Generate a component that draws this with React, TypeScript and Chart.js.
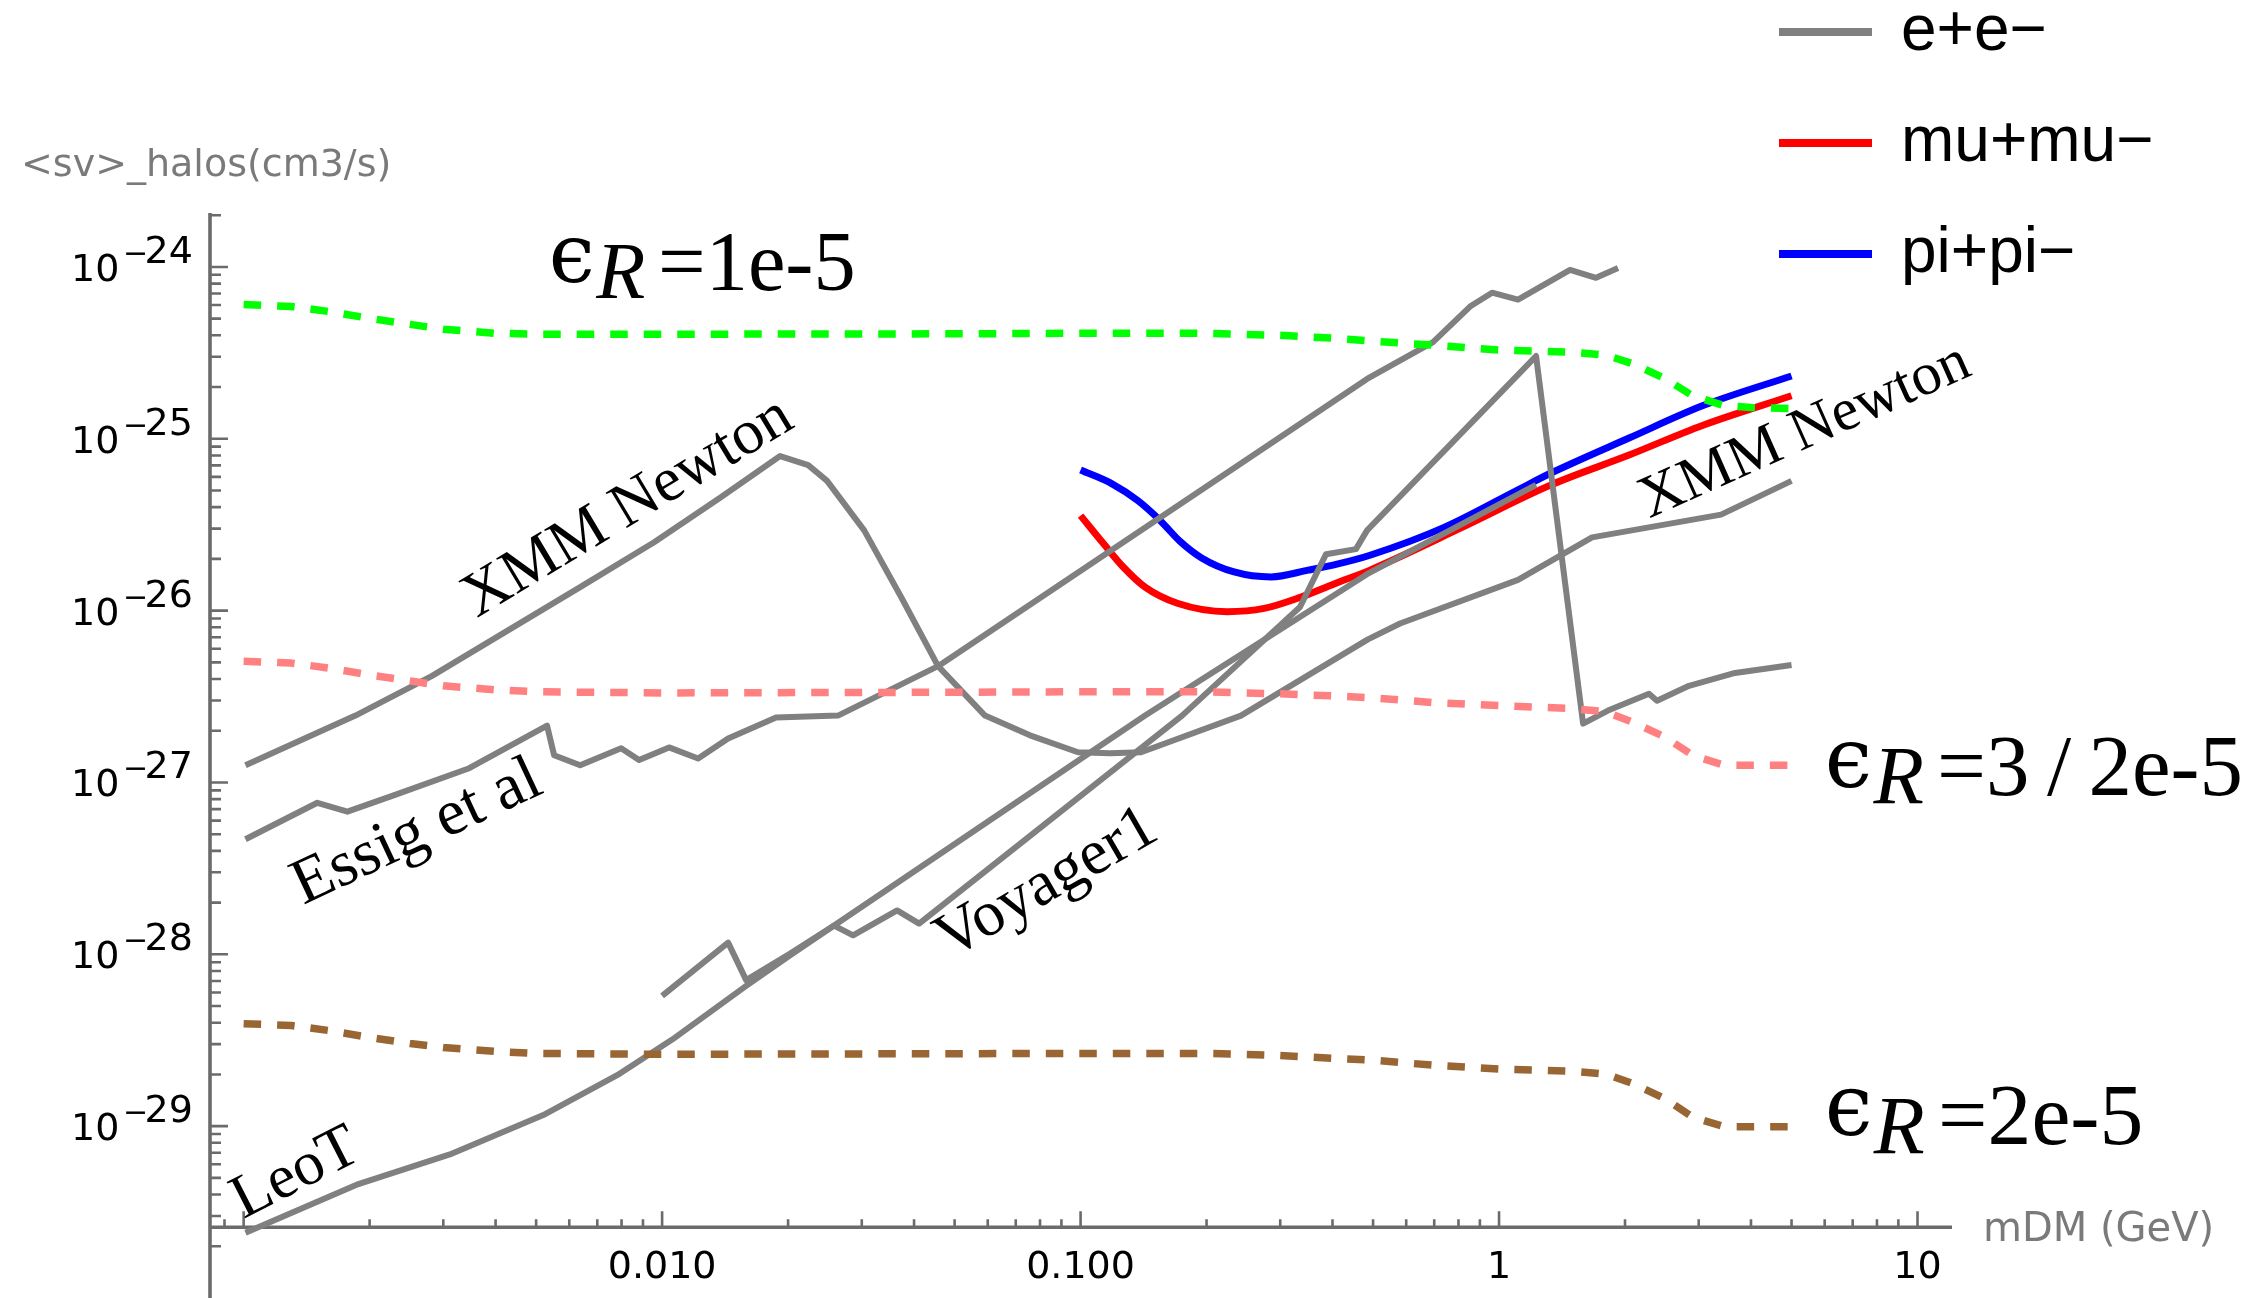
import React, { useEffect, useRef } from "react";
import { Chart, registerables } from "chart.js";

Chart.register(...registerables);

// ---------------- axis ranges / ticks ----------------
const X_MIN = 8.31e-4;
const X_MAX = 12.09;
const Y_MIN = 1.14e-30;
const Y_MAX = 2.06e-24;
const X_AXIS_AT = 2.58e-30; // y value where the horizontal axis crosses

const X_TICK_VALUES = [0.01, 0.1, 1, 10];
const X_TICK_LABELS = ["0.010", "0.100", "1", "10"];
const Y_TICK_EXPONENTS = [-24, -25, -26, -27, -28, -29];

// ---------------- dashed benchmark curves (epsilon_R) ----------------
const epsX = [0.001, 0.0013, 0.0016, 0.002, 0.0025, 0.003, 0.004, 0.005, 0.01, 0.05, 0.1, 0.2, 0.3, 0.4, 0.5, 0.7, 1, 1.5, 1.8, 2.1, 2.5, 2.9, 3.45, 4, 5];
const eps1Y = [6.04e-25, 5.88e-25, 5.5e-25, 5.02e-25, 4.63e-25, 4.34e-25, 4.11e-25, 4.06e-25, 4.06e-25, 4.08e-25, 4.11e-25, 4.11e-25, 4.0e-25, 3.85e-25, 3.7e-25, 3.5e-25, 3.28e-25, 3.19e-25, 3.07e-25, 2.72e-25, 2.23e-25, 1.78e-25, 1.56e-25, 1.52e-25, 1.5e-25];
const eps32Y = [5.08e-27, 4.95e-27, 4.63e-27, 4.22e-27, 3.9e-27, 3.65e-27, 3.46e-27, 3.37e-27, 3.32e-27, 3.35e-27, 3.37e-27, 3.37e-27, 3.28e-27, 3.19e-27, 3.11e-27, 2.91e-27, 2.8e-27, 2.69e-27, 2.58e-27, 2.23e-27, 1.83e-27, 1.44e-27, 1.26e-27, 1.26e-27, 1.26e-27];
const eps2Y = [3.95e-29, 3.85e-29, 3.6e-29, 3.28e-29, 3.03e-29, 2.87e-29, 2.72e-29, 2.65e-29, 2.62e-29, 2.64e-29, 2.65e-29, 2.65e-29, 2.58e-29, 2.48e-29, 2.42e-29, 2.26e-29, 2.15e-29, 2.09e-29, 2.01e-29, 1.76e-29, 1.44e-29, 1.13e-29, 9.93e-30, 9.93e-30, 9.93e-30];

// ---------------- e+e- limits (gray) ----------------
const xmmX = [0.00101, 0.00185, 0.00282, 0.00637, 0.00957, 0.01376, 0.01914, 0.02234, 0.02479, 0.0304, 0.03725, 0.04565, 0.0591, 0.0757, 0.0986, 0.1176, 0.1395, 0.2417, 0.486, 0.58, 1.11, 1.668, 3.393, 5.0];
const xmmY = [1.26e-27, 2.45e-27, 4.17e-27, 1.37e-26, 2.5e-26, 4.54e-26, 7.93e-26, 7.03e-26, 5.69e-26, 2.93e-26, 1.2e-26, 4.75e-27, 2.45e-27, 1.88e-27, 1.5e-27, 1.48e-27, 1.5e-27, 2.45e-27, 6.8e-27, 8.41e-27, 1.51e-26, 2.67e-26, 3.62e-26, 5.69e-26];

const essigX = [0.00101, 0.0015, 0.00177, 0.0023, 0.00346, 0.00531, 0.00552, 0.00637, 0.00798, 0.00881, 0.01039, 0.01219, 0.01438, 0.01872, 0.02633, 0.04565, 0.4837, 0.6954, 0.8524, 0.9623, 1.11, 1.478, 1.705, 1.925];
const essigY = [4.67e-28, 7.62e-28, 6.76e-28, 8.47e-28, 1.21e-27, 2.14e-27, 1.44e-27, 1.26e-27, 1.58e-27, 1.35e-27, 1.6e-27, 1.38e-27, 1.8e-27, 2.39e-27, 2.45e-27, 4.75e-27, 2.23e-25, 3.65e-25, 5.88e-25, 7.08e-25, 6.46e-25, 9.61e-25, 8.65e-25, 9.87e-25];

const voyX = [0.01, 0.01438, 0.01588, 0.02023, 0.02576, 0.0286, 0.03644, 0.04113, 0.1748, 0.3345, 0.386, 0.455, 0.4837, 1.226, 1.588, 1.821, 2.282, 2.385, 2.844, 3.664, 5.0];
const voyY = [5.73e-29, 1.17e-28, 7.08e-29, 1.01e-28, 1.47e-28, 1.29e-28, 1.8e-28, 1.51e-28, 2.45e-27, 1.05e-26, 2.13e-26, 2.28e-26, 2.93e-26, 3.03e-25, 2.2e-27, 2.62e-27, 3.28e-27, 2.99e-27, 3.65e-27, 4.34e-27, 4.82e-27];

const leoX = [0.00101, 0.00188, 0.00311, 0.0052, 0.00781, 0.01057, 0.01588, 0.02023, 0.02576, 0.1031, 0.1426, 0.4837, 1.226];
const leoY = [2.4e-30, 4.6e-30, 6.85e-30, 1.16e-29, 1.98e-29, 3.19e-29, 6.55e-29, 9.86e-29, 1.47e-28, 1.44e-27, 2.45e-27, 1.63e-26, 5.39e-26];

// ---------------- mu+mu- and pi+pi- ----------------
const muX = [0.1, 0.1138, 0.1263, 0.1426, 0.171, 0.224, 0.2745, 0.3364, 0.4034, 0.4916, 0.816, 1.331, 2.045, 3.073, 5.0];
const muY = [3.57e-26, 2.43e-26, 1.8e-26, 1.37e-26, 1.1e-26, 9.86e-27, 1.03e-26, 1.2e-26, 1.43e-26, 1.72e-26, 3.05e-26, 5.39e-26, 8.04e-26, 1.2e-25, 1.78e-25];

const piX = [0.1, 0.1189, 0.1372, 0.1549, 0.1729, 0.1951, 0.2327, 0.2852, 0.3497, 0.4123, 0.4916, 0.739, 1.11, 1.331, 2.045, 3.073, 5.0];
const piY = [6.58e-26, 5.47e-26, 4.36e-26, 3.35e-26, 2.53e-26, 2.02e-26, 1.68e-26, 1.57e-26, 1.72e-26, 1.87e-26, 2.1e-26, 3.05e-26, 5.05e-26, 6.32e-26, 1.01e-25, 1.56e-25, 2.32e-25];

const LEGEND_LABELS = ["e+e\u2212", "mu+mu\u2212", "pi+pi\u2212"];

// ---------------- styles ----------------
const GRAY = "#808080";
const RED = "#ff0000";
const BLUE = "#0000ff";
const GREEN = "#00ff00";
const PINK = "#ff8080";
const BROWN = "#996633";
const AXIS_COLOR = "#6b6b6b";
const TITLE_COLOR = "#7a7a7a";
const LEGEND_COLORS = [GRAY, RED, BLUE];

const ANNOTATIONS = [
  { text: "XMM Newton", x: 628, y: 508, angle: 31, size: 63 },
  { text: "Essig et al", x: 417, y: 833, angle: 25, size: 65 },
  { text: "Voyager1", x: 1047, y: 884, angle: 30, size: 64 },
  { text: "LeoT", x: 296, y: 1174, angle: 27, size: 62 },
  { text: "XMM Newton", x: 1805, y: 432, angle: 24, size: 60 },
];

const EPS_LABELS = [
  { rest: "=1e-5", x: 554, base: 290, k: 1.03 },
  { rest: "=3\u2009/\u20092e-5", x: 1830, base: 795, k: 1.06 },
  { rest: "=2e-5", x: 1830, base: 1144, k: 1.07 },
];

const pts = (xs: number[], ys: number[]) => xs.map((x, i) => ({ x, y: ys[i] }));

function logTicks(min: number, max: number) {
  const out: { v: number; major: boolean }[] = [];
  for (let e = Math.floor(Math.log10(min)); e <= Math.ceil(Math.log10(max)); e++) {
    for (let m = 1; m <= 9; m++) {
      const v = m * Math.pow(10, e);
      if (v >= min * 0.9999 && v <= max * 1.0001) out.push({ v, major: m === 1 });
    }
  }
  return out;
}

const framePlugin = {
  id: "mmaFrame",
  beforeDatasetsDraw(chart: any) {
    const { ctx, chartArea: a } = chart;
    const xs = chart.scales.x;
    const ys = chart.scales.y;
    const ax = xs.getPixelForValue(X_MIN);
    const ay = ys.getPixelForValue(X_AXIS_AT);
    ctx.save();
    ctx.strokeStyle = AXIS_COLOR;
    ctx.lineCap = "butt";
    ctx.lineWidth = 3.6;
    ctx.beginPath();
    ctx.moveTo(ax, a.top);
    ctx.lineTo(ax, a.bottom);
    ctx.moveTo(ax, ay);
    ctx.lineTo(a.right, ay);
    ctx.stroke();

    ctx.lineWidth = 2.6;
    ctx.beginPath();
    for (const t of logTicks(Y_MIN, Y_MAX)) {
      const py = ys.getPixelForValue(t.v);
      ctx.moveTo(ax, py);
      ctx.lineTo(ax + (t.major ? 18 : 11), py);
    }
    for (const t of logTicks(X_MIN, X_MAX)) {
      const px = xs.getPixelForValue(t.v);
      ctx.moveTo(px, ay);
      ctx.lineTo(px, ay - (t.major ? 16 : 8));
    }
    ctx.stroke();

    // tick labels
    ctx.fillStyle = "#000";
    ctx.textBaseline = "alphabetic";
    ctx.font = '38px "DejaVu Sans"';
    ctx.textAlign = "center";
    X_TICK_VALUES.forEach((v, i) => {
      ctx.fillText(X_TICK_LABELS[i], xs.getPixelForValue(v), ay + 51);
    });
    ctx.textAlign = "left";
    Y_TICK_EXPONENTS.forEach((e) => {
      const py = ys.getPixelForValue(Math.pow(10, e));
      ctx.font = '38px "DejaVu Sans"';
      ctx.fillText("10", ax - 139, py + 14);
      ctx.font = '30px "DejaVu Sans"';
      ctx.fillText("\u2212", ax - 87, py - 4);
      ctx.font = '38px "DejaVu Sans"';
      ctx.fillText(String(Math.abs(e)), ax - 65.5, py - 4);
    });

    // axis titles
    ctx.fillStyle = TITLE_COLOR;
    ctx.font = '38px "DejaVu Sans"';
    ctx.fillText("<sv>_halos(cm3/s)", 21, 176);
    ctx.font = '40px "DejaVu Sans"';
    ctx.fillText("mDM (GeV)", a.right + 31, ay + 14);
    ctx.restore();
  },
  afterDatasetsDraw(chart: any) {
    const { ctx } = chart;
    ctx.save();
    // rotated annotations
    ctx.fillStyle = "#000";
    for (const an of ANNOTATIONS) {
      ctx.save();
      ctx.translate(an.x, an.y);
      ctx.rotate((-an.angle * Math.PI) / 180);
      ctx.font = `${an.size}px "Liberation Serif"`;
      ctx.textAlign = "center";
      ctx.textBaseline = "middle";
      ctx.fillText(an.text, 0, 0);
      ctx.restore();
    }
    // epsilon_R labels
    ctx.textAlign = "left";
    ctx.textBaseline = "alphabetic";
    for (const e of EPS_LABELS) {
      const k = e.k;
      ctx.font = `${80 * k}px "DejaVu Serif"`;
      ctx.fillText("\u03f5", e.x - 5 * k, e.base - 8 * k);
      ctx.font = `italic ${78 * k}px "Liberation Serif"`;
      ctx.fillText("R", e.x + 41 * k, e.base + 8 * k);
      ctx.font = `${82 * k}px "Liberation Serif"`;
      ctx.fillText(e.rest, e.x + 101 * k, e.base);
    }
    // legend
    LEGEND_LABELS.forEach((lab, i) => {
      const y = 32 + i * 111;
      ctx.strokeStyle = LEGEND_COLORS[i];
      ctx.lineWidth = 8;
      ctx.lineCap = "butt";
      ctx.beginPath();
      ctx.moveTo(1779, y);
      ctx.lineTo(1872, y);
      ctx.stroke();
      ctx.fillStyle = "#000";
      ctx.font = '64px "Liberation Sans"';
      ctx.fillText(lab, 1901, y + 17.5);
    });
    ctx.restore();
  },
};

export default function App() {
  const ref = useRef<HTMLCanvasElement>(null);
  useEffect(() => {
    const canvas = ref.current;
    if (!canvas) return;
    const dashed = (label: string, ys: number[], color: string) => ({
      label,
      data: pts(epsX, ys),
      borderColor: color,
      borderWidth: 7.5,
      borderDash: [17.5, 16],
      pointRadius: 0,
      tension: 0,
      fill: false,
    });
    const grayLine = (label: string, xs: number[], ys: number[]) => ({
      label,
      data: pts(xs, ys),
      borderColor: GRAY,
      borderWidth: 6,
      pointRadius: 0,
      tension: 0,
      fill: false,
    });
    const smooth = (label: string, xs: number[], ys: number[], color: string) => ({
      label,
      data: pts(xs, ys),
      borderColor: color,
      borderWidth: 7,
      pointRadius: 0,
      cubicInterpolationMode: "monotone" as const,
      fill: false,
    });
    const chart = new Chart(canvas, {
      type: "line",
      data: {
        datasets: [
          dashed("\u03f5R=1e-5", eps1Y, GREEN),
          dashed("\u03f5R=3/2e-5", eps32Y, PINK),
          dashed("\u03f5R=2e-5", eps2Y, BROWN),
          grayLine("e+e\u2212 XMM Newton", xmmX, xmmY),
          grayLine("e+e\u2212 Essig et al", essigX, essigY),
          grayLine("e+e\u2212 Voyager1", voyX, voyY),
          grayLine("e+e\u2212 LeoT", leoX, leoY),
          smooth("pi+pi\u2212", piX, piY, BLUE),
          smooth("mu+mu\u2212", muX, muY, RED),
        ] as any,
      },
      options: {
        animation: false,
        responsive: false,
        maintainAspectRatio: false,
        layout: { padding: { left: 210, right: 303, top: 213, bottom: 0 } },
        plugins: { legend: { display: false }, tooltip: { enabled: false } },
        elements: { line: { borderCapStyle: "butt", borderJoinStyle: "round" } },
        scales: {
          x: { type: "logarithmic", min: X_MIN, max: X_MAX, display: false },
          y: { type: "logarithmic", min: Y_MIN, max: Y_MAX, display: false },
        },
      },
      plugins: [framePlugin],
    });
    return () => chart.destroy();
  }, []);
  return (
    <div style={{ position: "fixed", left: 0, top: 0, width: 2255, height: 1298, background: "#fff" }}>
      <canvas ref={ref} width={2255} height={1298} style={{ display: "block", width: 2255, height: 1298 }} />
    </div>
  );
}
